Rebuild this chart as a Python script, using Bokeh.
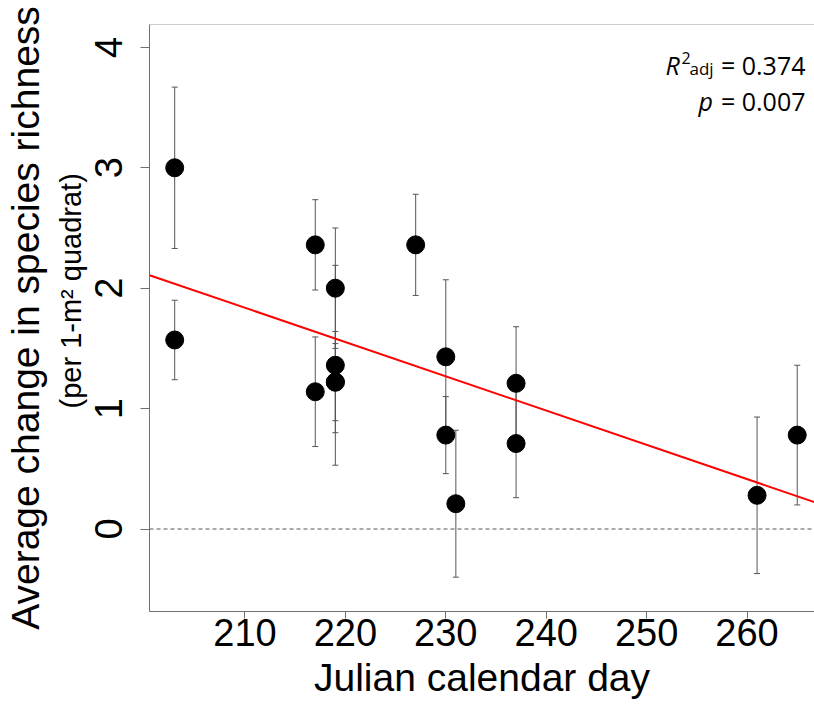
import numpy as np
from bokeh.plotting import figure
from bokeh.models import ColumnDataSource, Whisker, TeeHead, Span, Label, FixedTicker, Range1d, Title
from bokeh.embed import file_html
from bokeh.resources import INLINE

# ---- data ----
day = [203, 203, 217, 217, 219, 219, 219, 219, 227, 230, 230, 231, 237, 237, 261, 265]
richness_change = [3.00, 1.57, 2.36, 1.14, 2.00, 1.36, 1.22, 1.22, 2.36, 1.43, 0.78, 0.21, 1.21, 0.71, 0.28, 0.78]
std_error = [0.67, 0.33, 0.375, 0.455, 0.50, 0.83, 0.42, 0.32, 0.42, 0.64, 0.32, 0.61, 0.47, 0.45, 0.65, 0.58]
fit_intercept = 7.814
fit_slope = -0.02846
x_ticks = [210, 220, 230, 240, 250, 260]
y_ticks = [0, 1, 2, 3, 4]
r2_adj_text = "= 0.374"
p_value_text = "= 0.007"
x_title = "Julian calendar day"
y_title = "Average change in species richness"
y_subtitle = "(per 1-m\u00b2 quadrat)"

# ---- layout geometry ----
W, H = 814, 708
FL, FR, FT, FB = 149, 814, 24, 611
X0, X1 = 200.49, 266.72
Y0, Y1 = -0.685, 4.19


def dx(px):
    return X0 + (px - FL) * (X1 - X0) / (FR - FL)


def dy(py):
    return Y1 - (py - FT) * (Y1 - Y0) / (FB - FT)


lower = [v - e for v, e in zip(richness_change, std_error)]
upper = [v + e for v, e in zip(richness_change, std_error)]
src = ColumnDataSource(dict(day=day, y=richness_change, lower=lower, upper=upper))

p = figure(width=W, height=H, x_range=Range1d(X0, X1), y_range=Range1d(Y0, Y1),
           output_backend="svg", toolbar_location=None,
           min_border_left=FL, min_border_right=W - FR, min_border_top=FT, min_border_bottom=H - FB)
p.outline_line_color = None
p.xgrid.visible = False
p.ygrid.visible = False
p.background_fill_color = "white"
p.border_fill_color = "white"

AX = "#707070"
for ax in (p.xaxis[0], p.yaxis[0]):
    ax.axis_line_color = AX
    ax.major_tick_line_color = AX
    ax.minor_tick_line_color = None
    ax.major_tick_in = 0
    ax.major_label_text_font = "Liberation Sans"
    ax.major_label_text_font_size = "38px"
    ax.major_label_text_color = "black"
p.xaxis.ticker = FixedTicker(ticks=x_ticks)
p.yaxis.ticker = FixedTicker(ticks=y_ticks)
p.xaxis.major_tick_out = 7
p.yaxis.major_tick_out = 9
p.yaxis.major_label_orientation = "vertical"
p.xaxis.major_label_standoff = 0
p.yaxis.major_label_standoff = 18

p.xaxis.axis_label = x_title
p.xaxis.axis_label_text_font = "Liberation Sans"
p.xaxis.axis_label_text_font_size = "39px"
p.xaxis.axis_label_text_font_style = "normal"
p.xaxis.axis_label_text_color = "black"
p.xaxis.axis_label_standoff = 7

# y titles as side-panel titles (subtitle nearer the axis)
p.add_layout(Title(text=y_subtitle, align="left", offset=FB - 408, text_font="Liberation Sans",
                   text_font_size="29px", text_font_style="normal", text_color="black",
                   standoff=12), "left")
p.add_layout(Title(text=y_title, align="center", text_font="Liberation Sans",
                   text_font_size="39px", text_font_style="normal", text_color="black",
                   standoff=0), "left")

# top border line
p.add_layout(Span(location=Y1, dimension="width", line_color="#9a9a9a", line_width=1))
# zero reference line
p.add_layout(Span(location=0, dimension="width", line_color="#555555", line_width=1,
                  line_dash="4 3", level="underlay"))

# error bars
p.add_layout(Whisker(base="day", lower="lower", upper="upper", source=src,
                     line_color="#555555", line_width=1, level="underlay",
                     upper_head=TeeHead(size=6, line_color="#555555", line_width=1),
                     lower_head=TeeHead(size=6, line_color="#555555", line_width=1)))

p.scatter("day", "y", source=src, size=18, fill_color="black", line_color="black")

fx = [X0, X1]
fy = [fit_intercept + fit_slope * v for v in fx]
p.line(fx, fy, line_color="red", line_width=2)

# statistics annotation
AF = "Open Sans"
TC = "black"
p.add_layout(Label(x=dx(665), y=dy(64), text="R", text_font=AF, text_font_size="25px", text_color=TC,
                   text_font_style="italic", text_align="left", text_baseline="alphabetic"))
p.add_layout(Label(x=dx(681), y=dy(57), text="2", text_font=AF, text_font_size="16px", text_color=TC,
                   text_align="left", text_baseline="alphabetic"))
p.add_layout(Label(x=dx(689), y=dy(68), text="adj", text_font=AF, text_font_size="17px", text_color=TC,
                   text_align="left", text_baseline="alphabetic"))
p.add_layout(Label(x=dx(805), y=dy(64), text=r2_adj_text, text_font=AF, text_font_size="25px", text_color=TC,
                   text_align="right", text_baseline="alphabetic"))
p.add_layout(Label(x=dx(698), y=dy(100), text="p", text_font=AF, text_font_size="25px", text_color=TC,
                   text_font_style="italic", text_align="left", text_baseline="alphabetic"))
p.add_layout(Label(x=dx(805), y=dy(100), text=p_value_text, text_font=AF, text_font_size="25px", text_color=TC,
                   text_align="right", text_baseline="alphabetic"))

open("out.html", "w").write(file_html(p, INLINE))
